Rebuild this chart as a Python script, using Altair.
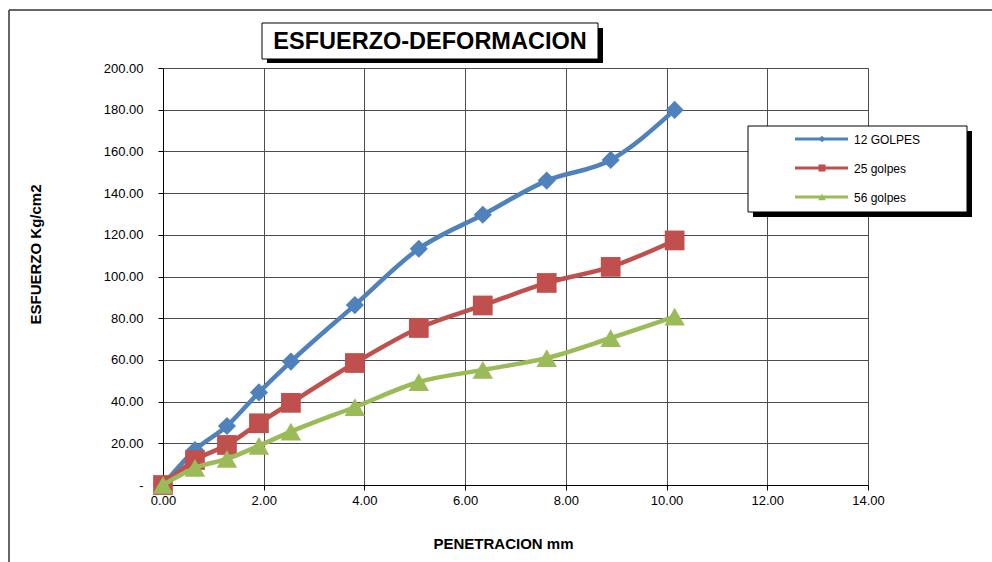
import altair as alt
import pandas as pd

# Penetration readings (mm) shared by all three series
penetracion = [0.0, 0.635, 1.27, 1.905, 2.54, 3.81, 5.08, 6.35, 7.62, 8.89, 10.16]

# Stress (kg/cm2) for each compaction energy
golpes_12 = [0.0, 16.8, 28.3, 44.4, 59.2, 86.3, 113.3, 129.6, 146.0, 155.9, 179.9]
golpes_25 = [0.0, 12.0, 19.2, 29.6, 39.4, 58.5, 75.3, 86.1, 96.9, 104.6, 117.3]
golpes_56 = [0.0, 8.2, 12.5, 18.8, 25.6, 37.4, 49.4, 55.2, 60.9, 70.5, 80.8]

series_names = ["12 GOLPES", "25 golpes", "56 golpes"]
series_values = [golpes_12, golpes_25, golpes_56]
series_colors = ["#4F81BD", "#C0504D", "#9BBB59"]
series_shapes = ["diamond", "square", "triangle-up"]
series_sizes = [330, 390, 420]
legend_sizes = [45, 50, 60]

x_ticks = [0, 2, 4, 6, 8, 10, 12, 14]
y_ticks = [0, 20, 40, 60, 80, 100, 120, 140, 160, 180, 200]

FONT = "Liberation Sans"
W, H = 705, 417

rows = []
for name, vals in zip(series_names, series_values):
    for p, v in zip(penetracion, vals):
        rows.append({"serie": name, "penetracion": p, "esfuerzo": v})
df = pd.DataFrame(rows)

one = pd.DataFrame({"k": [0]})

x_enc = alt.X(
    "penetracion:Q",
    scale=alt.Scale(domain=[0, 14], nice=False, zero=False),
    axis=alt.Axis(
        values=x_ticks, format=".2f", title="PENETRACION mm",
        labelFlush=False, labelOverlap=False,
        titleX=340, titleY=58, titleAlign="center", titleBaseline="middle",
    ),
)
y_enc = alt.Y(
    "esfuerzo:Q",
    scale=alt.Scale(domain=[0, 200], nice=False),
    axis=alt.Axis(
        values=y_ticks,
        labelExpr="datum.value == 0 ? '-\u00a0\u00a0' : format(datum.value, '.2f')",
        labelFlush=False, labelOverlap=False,
        title="ESFUERZO Kg/cm2", titleAngle=270,
        titleX=-128, titleY=186, titleAlign="center", titleBaseline="middle",
        labelPadding=15,
    ),
)

layers = []

# outer frame of the chart sheet
frame = alt.Chart(one)
layers.append(frame.mark_rule(color="#333333", strokeWidth=1.5).encode(
    x=alt.value(-154), x2=alt.value(900), y=alt.value(-58)))
layers.append(frame.mark_rule(color="#333333", strokeWidth=1.5).encode(
    x=alt.value(-154), y=alt.value(-58), y2=alt.value(600)))

# data series: line then markers, in series order
for name, color, shape, size in zip(series_names, series_colors, series_shapes, series_sizes):
    base = alt.Chart(df).transform_filter(alt.datum.serie == name)
    layers.append(base.mark_line(
        color=color, strokeWidth=4.5, interpolate="monotone"
    ).encode(x=x_enc, y=y_enc))
    layers.append(base.mark_point(
        color=color, filled=True, opacity=1, shape=shape, size=size
    ).encode(x=x_enc, y=y_enc))

# title box with drop shadow
deco = alt.Chart(one)
layers.append(deco.mark_rect(color="black").encode(
    x=alt.value(104), x2=alt.value(440), y=alt.value(-40), y2=alt.value(-5)))
layers.append(deco.mark_rect(fill="white", stroke="black", strokeWidth=1).encode(
    x=alt.value(99), x2=alt.value(435), y=alt.value(-45), y2=alt.value(-9)))
layers.append(deco.mark_text(
    font=FONT, fontSize=23.5, fontWeight="bold", color="black",
    align="center", baseline="middle",
).encode(x=alt.value(267), y=alt.value(-26), text=alt.value("ESFUERZO-DEFORMACION")))

# legend box with drop shadow
layers.append(deco.mark_rect(color="black").encode(
    x=alt.value(590), x2=alt.value(809), y=alt.value(63), y2=alt.value(149)))
layers.append(deco.mark_rect(fill="white", stroke="black", strokeWidth=1).encode(
    x=alt.value(585), x2=alt.value(804), y=alt.value(58), y2=alt.value(144)))

legend_y = [71, 100, 129]
for name, color, shape, lsize, ly in zip(series_names, series_colors, series_shapes, legend_sizes, legend_y):
    layers.append(deco.mark_rule(color=color, strokeWidth=3).encode(
        x=alt.value(632), x2=alt.value(685), y=alt.value(ly)))
    layers.append(deco.mark_point(
        color=color, filled=True, opacity=1, shape=shape, size=lsize
    ).encode(x=alt.value(659), y=alt.value(ly)))
    layers.append(deco.mark_text(
        font=FONT, fontSize=12, color="black", align="left", baseline="middle"
    ).encode(x=alt.value(691), y=alt.value(ly + 1), text=alt.value(name)))

chart = alt.layer(*layers).properties(
    width=W, height=H,
    autosize=alt.AutoSizeParams(type="none"),
    padding={"left": 163, "top": 68, "right": 124, "bottom": 77},
    background="white",
).configure_view(stroke=None).configure_axis(
    labelFont=FONT, labelFontSize=13, labelColor="black",
    titleFont=FONT, titleFontSize=15, titleFontWeight="bold", titleColor="black",
    grid=True, gridColor="#4d4d4d", gridWidth=1,
    domainColor="black", domainWidth=1,
    tickColor="black", tickSize=5, tickWidth=1,
    labelPadding=4,
)

chart.save("out.html", embed_options={"renderer": "svg", "actions": False})
